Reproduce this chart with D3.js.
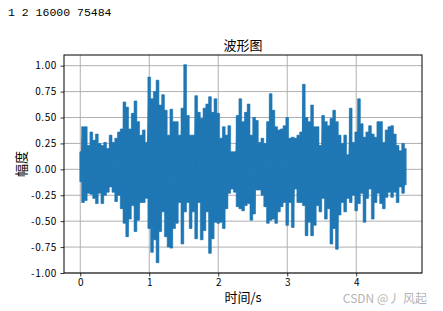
<!DOCTYPE html>
<html>
<head>
<meta charset="utf-8">
<script src="https://cdn.jsdelivr.net/npm/d3@7"></script>
<style>
  body { margin: 0; background: #fff; }
  svg { display: block; }
</style>
</head>
<body>
<div class="container"></div>
<script>
// printed header: nchannels sampwidth framerate nframes
const nchannels = 1
const sampwidth = 2
const framerate = 16000
const nframes = 75484
const duration = nframes / framerate

// waveform envelope, one column every 0.04 s
const step = 0.04
const upper = [
  0.17, 0.41, 0.41, 0.23, 0.36, 0.28, 0.34, 0.25, 0.23, 0.26,
  0.20, 0.33, 0.26, 0.30, 0.36, 0.39, 0.65, 0.60, 0.39, 0.54,
  0.66, 0.46, 0.33, 0.38, 0.26, 0.89, 0.68, 0.75, 0.86, 0.62,
  0.72, 0.57, 0.33, 0.58, 0.46, 0.46, 0.33, 0.59, 1.01, 0.52,
  0.33, 0.33, 0.71, 0.55, 0.49, 0.59, 0.63, 0.70, 0.55, 0.68,
  0.54, 0.30, 0.41, 0.33, 0.42, 0.17, 0.17, 0.52, 0.68, 0.46,
  0.55, 0.63, 0.33, 0.50, 0.47, 0.26, 0.30, 0.25, 0.46, 0.73,
  0.57, 0.41, 0.38, 0.39, 0.42, 0.50, 0.30, 0.31, 0.30, 0.33,
  0.36, 0.82, 0.50, 0.46, 0.62, 0.41, 0.41, 0.23, 0.52, 0.46,
  0.42, 0.49, 0.57, 0.46, 0.33, 0.25, 0.33, 0.14, 0.59, 0.26,
  0.36, 0.68, 0.44, 0.31, 0.36, 0.42, 0.34, 0.31, 0.46, 0.46,
  0.26, 0.38, 0.41, 0.42, 0.34, 0.23, 0.18, 0.25, 0.20
]
const lower = [
  -0.12, -0.32, -0.30, -0.23, -0.24, -0.28, -0.33, -0.23, -0.33, -0.25,
  -0.22, -0.17, -0.22, -0.31, -0.25, -0.38, -0.52, -0.65, -0.48, -0.35,
  -0.60, -0.49, -0.32, -0.32, -0.28, -0.57, -0.80, -0.68, -0.90, -0.60,
  -0.41, -0.65, -0.75, -0.76, -0.57, -0.52, -0.32, -0.72, -0.41, -0.32,
  -0.57, -0.41, -0.67, -0.32, -0.68, -0.59, -0.41, -0.81, -0.67, -0.51,
  -0.52, -0.51, -0.57, -0.38, -0.23, -0.19, -0.22, -0.36, -0.38, -0.40,
  -0.35, -0.33, -0.49, -0.43, -0.20, -0.20, -0.25, -0.36, -0.52, -0.49,
  -0.48, -0.52, -0.41, -0.36, -0.32, -0.54, -0.32, -0.56, -0.19, -0.32,
  -0.32, -0.35, -0.64, -0.51, -0.64, -0.54, -0.35, -0.41, -0.28, -0.48,
  -0.38, -0.72, -0.57, -0.77, -0.44, -0.32, -0.41, -0.28, -0.32, -0.25,
  -0.40, -0.33, -0.23, -0.51, -0.28, -0.19, -0.48, -0.32, -0.23, -0.33,
  -0.38, -0.27, -0.22, -0.27, -0.22, -0.32, -0.17, -0.23, -0.15
]

const xTicks = [0, 1, 2, 3, 4]
const yTicks = [-1.0, -0.75, -0.5, -0.25, 0, 0.25, 0.5, 0.75, 1.0]

const width = 443
const height = 311
const margin = { top: 55, bottom: 38, left: 64, right: 21 }

const svg = d3.select(".container").append("svg").attr("width", width).attr("height", height)

// printed line above the figure
svg.append("text")
  .attr("x", 8).attr("y", 16)
  .style("font-family", "'Liberation Mono', monospace")
  .style("font-size", "11.5px")
  .style("fill", "#000")
  .text(`${nchannels} ${sampwidth} ${framerate} ${nframes}`)

// matplotlib style 5% margins
const xPad = duration * 0.05
let x = d3.scaleLinear().domain([-xPad, duration + xPad]).range([margin.left, width - margin.right])
let y = d3.scaleLinear().domain([-1.0, 1.103]).range([height - margin.bottom, margin.top])

const gridGroup = svg.append("g").attr("id", "gridGroup")
gridGroup.selectAll("line.gx").data(xTicks).join("line")
  .attr("class", "gx")
  .attr("x1", d => x(d)).attr("x2", d => x(d))
  .attr("y1", margin.top).attr("y2", height - margin.bottom)
  .attr("stroke", "#b0b0b0").attr("stroke-width", 1)
gridGroup.selectAll("line.gy").data(yTicks).join("line")
  .attr("class", "gy")
  .attr("x1", margin.left).attr("x2", width - margin.right)
  .attr("y1", d => y(d)).attr("y2", d => y(d))
  .attr("stroke", "#b0b0b0").attr("stroke-width", 1)

const cols = upper.map((u, i) => ({ t: Math.min(i * step, duration), u: u, l: lower[i] }))

const clip = svg.append("clipPath").attr("id", "clip").append("rect")
  .attr("x", margin.left).attr("y", margin.top)
  .attr("width", width - margin.left - margin.right)
  .attr("height", height - margin.top - margin.bottom)

const waveGroup = svg.append("g").attr("clip-path", "url(#clip)")

// dense body of the signal: stepped band between the envelopes
waveGroup.append("path")
  .datum(cols)
  .attr("fill", "#1f77b4")
  .attr("stroke", "#1f77b4")
  .attr("stroke-width", 0.6)
  .attr("d", d3.area().curve(d3.curveStep).x(d => x(d.t)).y0(d => y(d.l)).y1(d => y(d.u)))

// spikes: zig-zag through every column, top then bottom
const pts = []
cols.forEach(c => { pts.push([c.t, c.u]); pts.push([c.t, c.l]) })
waveGroup.append("path")
  .datum(pts)
  .attr("fill", "none")
  .attr("stroke", "#1f77b4")
  .attr("stroke-width", 1.5)
  .attr("d", d3.line().x(d => x(d[0])).y(d => y(d[1])))

// axes
const tickFont = "'Noto Sans CJK SC', sans-serif"
const xAxis = d3.axisBottom(x).tickValues(xTicks).tickFormat(d3.format("d")).tickSize(3.5).tickPadding(2)
const yAxis = d3.axisLeft(y).tickValues(yTicks).tickFormat(d3.format(".2f")).tickSize(3.5).tickPadding(3.5)

const xAxisGroup = svg.append("g").attr("transform", `translate(0, ${height - margin.bottom})`).call(xAxis)
const yAxisGroup = svg.append("g").attr("transform", `translate(${margin.left}, 0)`).call(yAxis)
;[xAxisGroup, yAxisGroup].forEach(g => {
  g.select(".domain").remove()
  g.selectAll("line").attr("stroke", "#000").attr("stroke-width", 0.8)
  g.selectAll("text").style("font-family", tickFont).style("font-size", "10px").style("fill", "#000")
})
yAxisGroup.selectAll("text")
  .style("letter-spacing", "0.6px")
  .text(d => d3.format(".2f")(d).replace("−", "-"))

// frame
svg.append("rect")
  .attr("x", margin.left).attr("y", margin.top)
  .attr("width", width - margin.left - margin.right)
  .attr("height", height - margin.top - margin.bottom)
  .attr("fill", "none").attr("stroke", "#000").attr("stroke-width", 1)

const cx = (margin.left + width - margin.right) / 2
svg.append("text")
  .attr("x", cx).attr("y", 50)
  .style("text-anchor", "middle")
  .style("font-family", tickFont).style("font-size", "13px")
  .text("波形图")

svg.append("text")
  .attr("x", cx).attr("y", 302)
  .style("text-anchor", "middle")
  .style("font-family", tickFont).style("font-size", "13px")
  .text("时间/s")

svg.append("text")
  .attr("transform", `translate(26, ${(margin.top + height - margin.bottom) / 2}) rotate(-90)`)
  .style("text-anchor", "middle")
  .style("font-family", tickFont).style("font-size", "13px")
  .text("幅度")

svg.append("text")
  .attr("x", 427).attr("y", 302.5)
  .style("text-anchor", "end")
  .style("font-family", tickFont).style("font-size", "12px")
  .style("fill", "#b4b4b4")
  .text("CSDN @丿 风起")
</script>
</body>
</html>
